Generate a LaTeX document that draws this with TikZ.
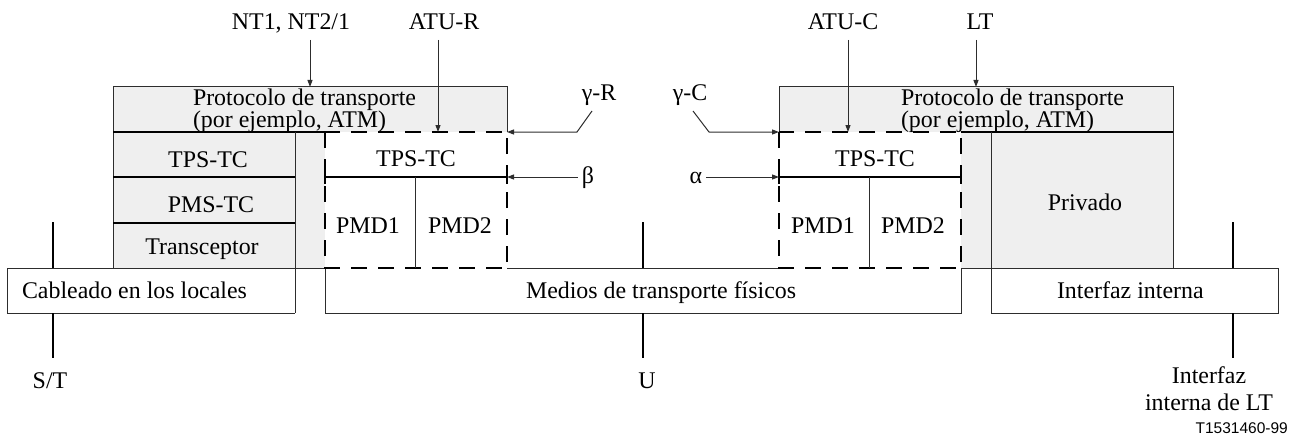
\documentclass[tikz,border=0pt]{standalone}
\usepackage{fontspec}
\setmainfont{Liberation Serif}
\newfontfamily\figsans{Liberation Sans}
\usetikzlibrary{arrows.meta}
\definecolor{boxgray}{RGB}{239,239,239}
\definecolor{linegray}{RGB}{45,45,45}
\begin{document}
\begin{tikzpicture}[x=1pt,y=-1pt,
  txt/.style={inner sep=0pt, outer sep=0pt, font=\fontsize{23.9}{27}\selectfont},
  helper/.style={inner sep=0pt, outer sep=0pt, draw=none},
  thinln/.style={line width=1pt, draw=linegray},
  sepln/.style={line width=2pt, draw=black},
  refln/.style={line width=1.6pt, draw=black},
  dbox/.style={line width=2.8pt, draw=black, dash pattern=on 16pt off 11pt},
  tickln/.style={line width=2.8pt, draw=black},
  arr/.style={line width=1pt, draw=linegray, -{Triangle[length=7pt,width=5pt]}}
]
\useasboundingbox (0,0) rectangle (1299,444);

% ---- gray fills
\fill[boxgray] (113,87) rectangle (507,132);
\fill[boxgray] (113,132) rectangle (325,268);
\fill[boxgray] (779,87) rectangle (1173,132);
\fill[boxgray] (961,132) rectangle (1173,268);

% ---- helper nodes for boxes
\node[helper, minimum width=394, minimum height=45, anchor=north west] (protL) at (113,87) {};
\node[helper, minimum width=394, minimum height=45, anchor=north west] (protR) at (779,87) {};
\node[helper, minimum width=182, minimum height=136, anchor=north west] (dashL) at (325,132) {};
\node[helper, minimum width=182, minimum height=136, anchor=north west] (dashR) at (779,132) {};
\node[helper, minimum width=288, minimum height=45, anchor=north west] (cable) at (7,268) {};
\node[helper, minimum width=636, minimum height=45, anchor=north west] (medios) at (325,268) {};
\node[helper, minimum width=287, minimum height=45, anchor=north west] (intf) at (991,268) {};

% ---- left block lines
\draw[thinln] (113,268) -- (113,87) -- (507,87) -- (507,132);
\draw[sepln] (113,132) -- (325,132);
\draw[sepln] (113,177) -- (295,177);
\draw[sepln] (113,223) -- (295,223);
\draw[thinln] (295,132) -- (295,313);
\draw[thinln] (cable.north west) -- (325,268);
\draw[thinln] (cable.north west) -- (cable.south west) -- (cable.south east);

% ---- medios box
\draw[thinln] (507,268) -- (779,268);
\draw[thinln] (medios.north west) -- (medios.south west) -- (medios.south east) -- (medios.north east);

% ---- right block lines
\draw[thinln] (779,132) -- (779,87) -- (1173,87) -- (1173,268);
\draw[sepln] (961,132) -- (1173,132);
\draw[thinln] (991,132) -- (991,313);
\draw[thinln] (961,268) -- (intf.north east) -- (intf.south east) -- (intf.south west);

% ---- dashed boxes
\draw[dbox] (dashL.north west) rectangle (dashL.south east);
\draw[dbox] (dashR.north west) rectangle (dashR.south east);
\draw[sepln] (325,177) -- (507,177);
\draw[sepln] (779,177) -- (961,177);
\draw[tickln] (325,170) -- (325,184);
\draw[tickln] (507,170) -- (507,184);
\draw[tickln] (779,170) -- (779,184);
\draw[tickln] (961,170) -- (961,184);
\draw[thinln] (415,177) -- (415,268);
\draw[thinln] (869,177) -- (869,268);

% ---- reference point ticks
\draw[refln] (53,222) -- (53,268);
\draw[refln] (53,313) -- (53,358);
\draw[refln] (643,222) -- (643,268);
\draw[refln] (643,313) -- (643,358);
\draw[refln] (1233,222) -- (1233,268);
\draw[refln] (1233,313) -- (1233,358);

% ---- texts in boxes
\node[txt, anchor=base west] (pl1) at (193,105) {Protocolo de transporte};
\node[txt, anchor=base west] (pl2) at (193,128) {(por ejemplo, ATM)};
\node[txt, anchor=base west] (pr1) at (901,105) {Protocolo de transporte};
\node[txt, anchor=base west] (pr2) at (901,128) {(por ejemplo, ATM)};
\node[txt, anchor=base] (tpsA) at (208,167) {TPS-TC};
\node[txt, anchor=base] (pms) at (211,212) {PMS-TC};
\node[txt, anchor=base] (trans) at (202,254) {Transceptor};
\node[txt, anchor=base] (tpsB) at (416,166) {TPS-TC};
\node[txt, anchor=base] (pmdA1) at (368,233) {PMD1};
\node[txt, anchor=base] (pmdA2) at (460,233) {PMD2};
\node[txt, anchor=base] (tpsC) at (875,166) {TPS-TC};
\node[txt, anchor=base] (pmdB1) at (823,233) {PMD1};
\node[txt, anchor=base] (pmdB2) at (913,233) {PMD2};
\node[txt, anchor=base] (priv) at (1085,210) {Privado};
\node[txt, anchor=base west] (cabt) at (22,298) {Cableado en los locales};
\node[txt, anchor=base west] (medt) at (526,298) {Medios de transporte físicos};
\node[txt, anchor=base west] (intt) at (1057,298) {Interfaz interna};

% ---- top labels and arrows
\node[txt, anchor=base] (nt) at (291,30) {NT1, NT2/1};
\node[txt, anchor=base] (atur) at (444,30) {ATU-R};
\node[txt, anchor=base] (atuc) at (843,30) {ATU-C};
\node[txt, anchor=base] (lt) at (980,30) {LT};
\coordinate (ntS) at (310,40);
\coordinate (aturS) at (438,40);
\coordinate (atucS) at (848,40);
\coordinate (ltS) at (976,40);
\draw[arr] (ntS) -- (ntS |- protL.north);
\draw[arr] (aturS) -- (aturS |- dashL.north);
\draw[arr] (atucS) -- (atucS |- dashR.north);
\draw[arr] (ltS) -- (ltS |- protR.north);

% ---- interface labels
\node[txt, anchor=base] (gR) at (599,100) {γ-R};
\node[txt, anchor=base] (gC) at (690,100) {γ-C};
\node[txt, anchor=base] (beta) at (588,183) {β};
\node[txt, anchor=base] (alpha) at (696,183) {α};
\coordinate (gRs) at (592,111);
\coordinate (gCs) at (693,111);
\draw[arr] (gRs) -- (577,132) -- (dashL.north east);
\draw[arr] (gCs) -- (709,132) -- (dashR.north west);
\draw[arr] (beta.west |- 0,177) ++(-4,0) -- (dashL.east |- 0,177);
\draw[arr] (alpha.east |- 0,177) ++(4,0) -- (dashR.west |- 0,177);

% ---- bottom labels
\node[txt, anchor=base] (st) at (50,388) {S/T};
\node[txt, anchor=base] (u) at (647,388) {U};
\node[txt, anchor=base] (ilt1) at (1209,383) {Interfaz};
\node[txt, anchor=base] (ilt2) at (1209,410) {interna de LT};
\node[inner sep=0pt, anchor=base east, font=\figsans\fontsize{15.5}{18}\selectfont] (code) at (1288,433) {T1531460-99};
\end{tikzpicture}
\end{document}
